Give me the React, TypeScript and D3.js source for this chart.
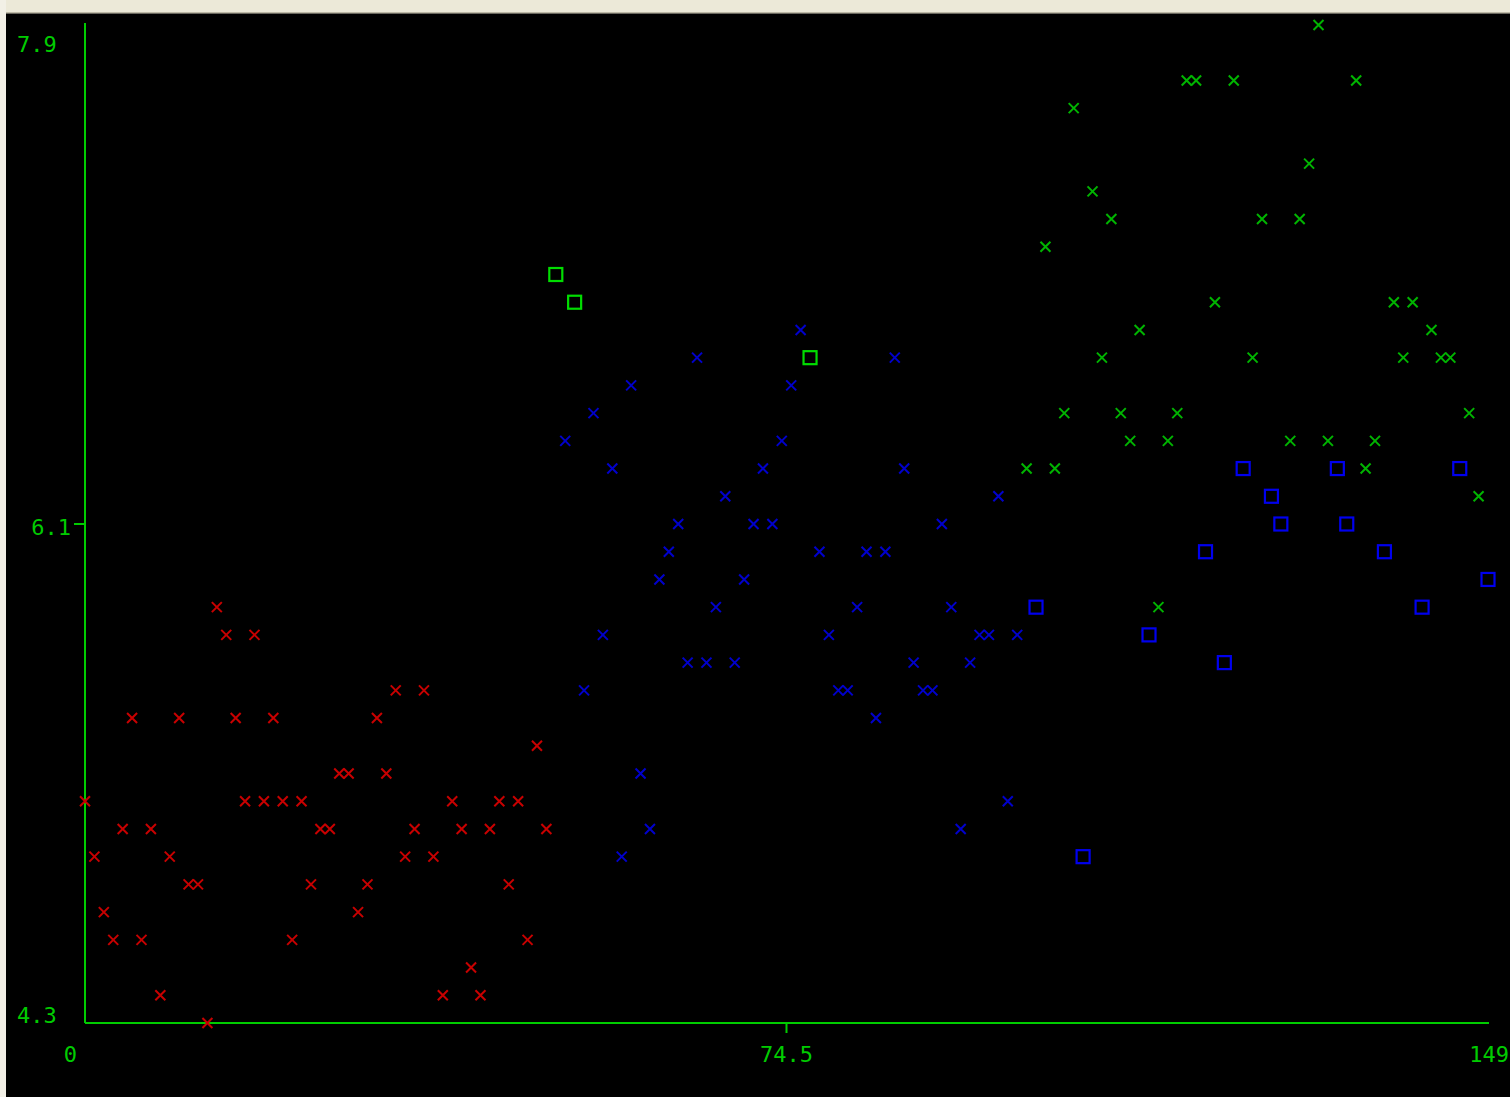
import React from "react";
import * as d3 from "d3";

// Iris sepal length, by sample index
const setosa = [5.1,4.9,4.7,4.6,5.0,5.4,4.6,5.0,4.4,4.9,5.4,4.8,4.8,4.3,5.8,5.7,5.4,5.1,5.7,5.1,5.4,5.1,4.6,5.1,4.8,5.0,5.0,5.2,5.2,4.7,4.8,5.4,5.2,5.5,4.9,5.0,5.5,4.9,4.4,5.1,5.0,4.5,4.4,5.0,5.1,4.8,5.1,4.6,5.3,5.0];
const versicolor = [7.0,6.4,6.9,5.5,6.5,5.7,6.3,4.9,6.6,5.2,5.0,5.9,6.0,6.1,5.6,6.7,5.6,5.8,6.2,5.6,5.9,6.1,6.3,6.1,6.4,6.6,6.8,6.7,6.0,5.7,5.5,5.5,5.8,6.0,5.4,6.0,6.7,6.3,5.6,5.5,5.5,6.1,5.8,5.0,5.6,5.7,5.7,6.2,5.1,5.7];
const virginica = [6.3,5.8,7.1,6.3,6.5,7.6,4.9,7.3,6.7,7.2,6.5,6.4,6.8,5.7,5.8,6.4,6.5,7.7,7.7,6.0,6.9,5.6,7.7,6.3,6.7,7.2,6.2,6.1,6.4,7.2,7.4,7.9,6.4,6.3,6.1,7.7,6.3,6.4,6.0,6.9,6.7,6.9,5.8,6.8,6.7,6.7,6.3,6.5,6.2,5.9];

// misclassified samples (drawn as squares in the predicted class colour)
const versicolorAsVirginica = [50, 52, 77];
const virginicaAsVersicolor = [101, 106, 113, 119, 121, 123, 126, 127, 133, 134, 138, 142, 146, 149];

const xTicks = [0, 74.5, 149];
const yTicks = [4.3, 6.1, 7.9];

const RED = "#c80000";
const BLUE = "#0000cc";
const GREEN = "#00b400";
const AXIS = "#00cc00";

export default function App() {
  const W = 1510, H = 1097;
  const x = d3.scaleLinear().domain([0, 149]).range([85, 1488]);
  const y = d3.scaleLinear().domain([4.3, 7.9]).range([1023, 25]);

  const wrongV = new Set(versicolorAsVirginica);
  const wrongG = new Set(virginicaAsVersicolor);

  type P = { i: number; v: number; color: string; square: boolean };
  const pts: P[] = [];
  setosa.forEach((v, k) => pts.push({ i: k, v, color: RED, square: false }));
  versicolor.forEach((v, k) => {
    const i = 50 + k;
    const w = wrongV.has(i);
    pts.push({ i, v, color: w ? "#00dd00" : BLUE, square: w });
  });
  virginica.forEach((v, k) => {
    const i = 100 + k;
    const w = wrongG.has(i);
    pts.push({ i, v, color: w ? "#0000ee" : GREEN, square: w });
  });

  const font = "'DejaVu Sans Mono', 'Liberation Mono', monospace";
  const cs = 5;
  const sq = 6.5;

  return (
    <svg width={W} height={H} style={{ position: "absolute", left: 0, top: 0 }}>
      <rect x={0} y={0} width={W} height={H} fill="#ece9d8" />
      <rect x={0} y={0} width={6} height={H} fill="#f2f0e6" />
      <rect x={6} y={12} width={W - 6} height={1.5} fill="#bdb9a6" />
      <rect x={6} y={13.5} width={W - 6} height={H - 13.5} fill="#000" />

      {/* axes */}
      <line x1={x(0)} x2={x(0)} y1={23} y2={y(4.3)} stroke={AXIS} strokeWidth={2} />
      <line x1={x(0)} x2={x(149) + 1} y1={y(4.3)} y2={y(4.3)} stroke={AXIS} strokeWidth={2} />
      <line x1={x(0) - 11} x2={x(0)} y1={y(6.1)} y2={y(6.1)} stroke={AXIS} strokeWidth={2} />
      <line x1={x(74.5)} x2={x(74.5)} y1={y(4.3)} y2={y(4.3) + 10} stroke={AXIS} strokeWidth={2} />

      {/* y tick labels */}
      {yTicks.map((t) => {
        const mid = t === 6.1;
        const by = t === 7.9 ? 52 : t === 4.3 ? 1023 : y(t) + 11;
        return (
          <text key={t} x={mid ? 71 : 17} y={by} textAnchor={mid ? "end" : "start"}
            fill={AXIS} fontFamily={font} fontSize={22}>{t.toFixed(1)}</text>
        );
      })}
      {/* x tick labels */}
      {xTicks.map((t) => {
        const anchor = t === 0 ? "end" : t === 149 ? "end" : "middle";
        const px = t === 0 ? 77 : t === 149 ? 1509 : x(t);
        return (
          <text key={t} x={px} y={1062} textAnchor={anchor} fill={AXIS}
            fontFamily={font} fontSize={22}>{String(t)}</text>
        );
      })}

      {/* points */}
      {pts.map((p) => {
        const cx = x(p.i), cy = y(p.v);
        if (p.square) {
          return <rect key={p.i} x={cx - sq} y={cy - sq} width={sq * 2} height={sq * 2}
            fill="none" stroke={p.color} strokeWidth={2.2} />;
        }
        return (
          <path key={p.i}
            d={`M${cx - cs},${cy - cs}L${cx + cs},${cy + cs}M${cx - cs},${cy + cs}L${cx + cs},${cy - cs}`}
            stroke={p.color} strokeWidth={2} fill="none" />
        );
      })}
    </svg>
  );
}
